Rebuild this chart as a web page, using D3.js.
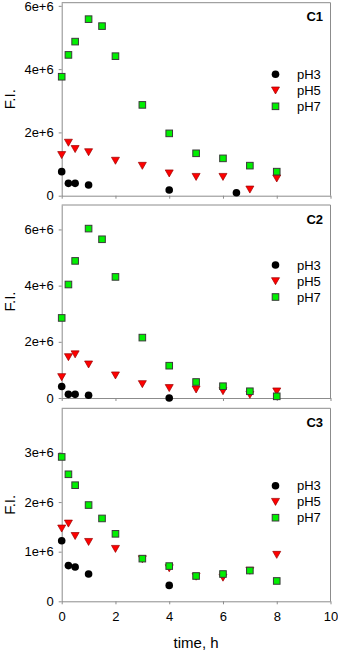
<!DOCTYPE html>
<html>
<head>
    <meta charset="utf-8">
    <title>F.I. vs time</title>
    <script src="https://d3js.org/d3.v7.min.js"></script>
    <style>
        body { margin: 0; background: #fff; }
        text { font-family: "Liberation Sans", Arial, sans-serif; fill: #000; }
    </style>
</head>
<body>
<script>
var W = 338, H = 651;

// times (h)
var t3_c1 = [0, 0.25, 0.5, 1, 4, 6.5];
var t3 = [0, 0.25, 0.5, 1, 4];
var t5 = [0, 0.25, 0.5, 1, 2, 3, 4, 5, 6, 7, 8];
var t7 = [0, 0.25, 0.5, 1, 1.5, 2, 3, 4, 5, 6, 7, 8];

// C1
var c1_pH3 = [0.76e6, 0.39e6, 0.39e6, 0.34e6, 0.18e6, 0.095e6];
var c1_pH5 = [1.29e6, 1.68e6, 1.48e6, 1.38e6, 1.11e6, 0.95e6, 0.71e6, 0.60e6, 0.60e6, 0.20e6, 0.55e6];
var c1_pH7 = [3.76e6, 4.45e6, 4.87e6, 5.58e6, 5.36e6, 4.41e6, 2.87e6, 1.97e6, 1.34e6, 1.18e6, 0.95e6, 0.76e6];
// C2
var c2_pH3 = [0.41e6, 0.13e6, 0.13e6, 0.10e6, 0];
var c2_pH5 = [0.75e6, 1.46e6, 1.56e6, 1.20e6, 0.81e6, 0.50e6, 0.36e6, 0.31e6, 0.25e6, 0.12e6, 0.24e6];
var c2_pH7 = [2.85e6, 4.04e6, 4.88e6, 6.03e6, 5.65e6, 4.31e6, 2.15e6, 1.15e6, 0.57e6, 0.42e6, 0.24e6, 0.06e6];
// C3
var c3_pH3 = [1.22e6, 0.72e6, 0.69e6, 0.55e6, 0.32e6];
var c3_pH5 = [1.47e6, 1.57e6, 1.32e6, 1.20e6, 1.06e6, 0.85e6, 0.67e6, 0.50e6, 0.48e6, 0.62e6, 0.94e6];
var c3_pH7 = [2.91e6, 2.56e6, 2.34e6, 1.94e6, 1.67e6, 1.36e6, 0.86e6, 0.71e6, 0.51e6, 0.55e6, 0.62e6, 0.41e6];

var panelNames = ["C1", "C2", "C3"];
var yMax = [6.1e6, 6.87e6, 3.89e6];
var yTicks = [[0, 2e6, 4e6, 6e6], [0, 2e6, 4e6, 6e6], [0, 1e6, 2e6, 3e6]];
var xTicks = [0, 2, 4, 6, 8, 10];
var seriesNames = ["pH3", "pH5", "pH7"];

var panels = [
    { name: panelNames[0], max: yMax[0], ticks: yTicks[0], series: [[t3_c1, c1_pH3], [t5, c1_pH5], [t7, c1_pH7]] },
    { name: panelNames[1], max: yMax[1], ticks: yTicks[1], series: [[t3, c2_pH3], [t5, c2_pH5], [t7, c2_pH7]] },
    { name: panelNames[2], max: yMax[2], ticks: yTicks[2], series: [[t3, c3_pH3], [t5, c3_pH5], [t7, c3_pH7]] }
];

// layout
var left = 61.7, right = 330.5, ph = 193;
var tops = [2.7, 205, 408.3];
var legendY = [71.6, 60, 77.4];
var axisCol = "#8c8c8c";

var x = d3.scaleLinear().domain([0, 10]).range([left, right]);

var svg = d3.select("body").append("svg")
    .attr("width", W).attr("height", H);

// marker shapes
function drawMarker(sel, k) {
    if (k === 0) {
        sel.append("circle").attr("r", 3.8).attr("fill", "#000");
    } else if (k === 1) {
        sel.append("path").attr("d", "M-4,-3.3L4,-3.3L0,3.7Z")
            .attr("fill", "#ff0000").attr("stroke", "#9a0000").attr("stroke-width", 0.7);
    } else {
        sel.append("rect").attr("x", -3.3).attr("y", -3.3).attr("width", 6.6).attr("height", 6.6)
            .attr("fill", "#00f000").attr("stroke", "#3a3a3a").attr("stroke-width", 1);
    }
}

panels.forEach(function(p, i) {
    var top = tops[i], bottom = top + ph;
    var y = d3.scaleLinear().domain([0, p.max]).range([bottom, top]);
    var g = svg.append("g");

    // frame top/right
    g.append("path")
        .attr("d", "M" + left + "," + top + "H" + right + "V" + bottom)
        .attr("fill", "none").attr("stroke", axisCol);

    var xa = d3.axisBottom(x).tickValues(xTicks).tickSize(3).tickSizeOuter(0).tickPadding(7);
    if (i < 2) xa.tickFormat("");
    var gx = g.append("g").attr("transform", "translate(0," + bottom + ")").call(xa);

    var ya = d3.axisLeft(y).tickValues(p.ticks).tickSize(3).tickSizeOuter(0).tickPadding(5)
        .tickFormat(function(d) { return d === 0 ? "0" : (d / 1e6) + "e+6"; });
    var gy = g.append("g").attr("transform", "translate(" + left + ",0)").call(ya);

    [gx, gy].forEach(function(a) {
        a.select(".domain").attr("stroke", axisCol);
        a.selectAll(".tick line").attr("stroke", axisCol);
        a.selectAll(".tick text").style("font-size", "13px").attr("fill", "#000");
    });

    // points
    p.series.forEach(function(s, k) {
        var pts = s[0].map(function(t, j) { return [t, s[1][j]]; });
        g.selectAll(".m" + k).data(pts).enter().append("g")
            .attr("class", "m" + k)
            .attr("transform", function(d) { return "translate(" + x(d[0]) + "," + y(d[1]) + ")"; })
            .each(function() { drawMarker(d3.select(this), k); });
    });

    // panel name
    g.append("text").attr("x", 323).attr("y", top + 14)
        .attr("text-anchor", "end").attr("dominant-baseline", "central")
        .style("font-size", "13px").style("font-weight", "bold").text(p.name);

    // legend
    seriesNames.forEach(function(n, k) {
        var ly = top + legendY[i] + k * 16;
        var lg = g.append("g").attr("transform", "translate(275.5," + ly + ")");
        drawMarker(lg, k);
        g.append("text").attr("x", 297).attr("y", ly)
            .attr("dominant-baseline", "central")
            .style("font-size", "13px").text(n);
    });

    // y label
    g.append("text")
        .attr("transform", "translate(15," + (top + ph / 2) + ") rotate(-90)")
        .attr("text-anchor", "middle")
        .style("font-size", "15px").text("F.I.");
});

svg.append("text").attr("x", (left + right) / 2).attr("y", 648)
    .attr("text-anchor", "middle").style("font-size", "15px").text("time, h");
</script>
</body>
</html>
